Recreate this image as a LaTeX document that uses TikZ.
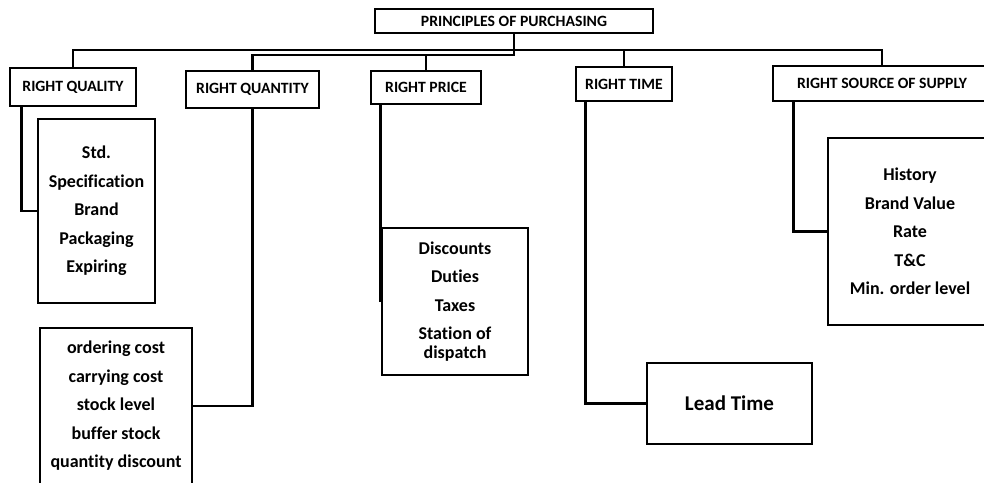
\documentclass[tikz,border=0pt]{standalone}
\usepackage{fontspec}
\setmainfont{Carlito}[Ligatures=CommonOff]
\begin{document}
\begin{tikzpicture}[x=1pt,y=-1pt,line width=2.6pt,
  hdr/.style={draw,inner sep=0pt,align=center,font=\fontsize{15.7}{18}\selectfont\bfseries},
  sub/.style={draw,inner sep=0pt,align=center,font=\fontsize{18}{28.5}\selectfont\bfseries},
  lead/.style={draw,inner sep=0pt,align=center,font=\fontsize{21}{24}\selectfont\bfseries},
  conn/.style={line width=2.6pt}]
\clip (0,0) rectangle (984,482);
\fill[white] (0,0) rectangle (984,482);
% headers
\node[hdr,minimum width=278pt,minimum height=24pt] (title) at (514,21) {PRINCIPLES OF PURCHASING};
\node[hdr,minimum width=126pt,minimum height=38pt] (quality) at (73,87) {RIGHT QUALITY};
\node[hdr,minimum width=133pt,minimum height=37pt] (quantity) at (252.5,89.5) {RIGHT QUANTITY};
\node[hdr,minimum width=110pt,minimum height=33pt] (price) at (426,87.5) {RIGHT PRICE};
\node[hdr,minimum width=96pt,minimum height=34pt] (time) at (624,84) {RIGHT TIME};
\node[hdr,minimum width=218pt,minimum height=35pt] (source) at (882,83.5) {RIGHT SOURCE OF SUPPLY};
% sub boxes
\node[sub,minimum width=117pt,minimum height=184pt] (qbox) at (96.5,211) {Std.\\Specification\\Brand\\Packaging\\Expiring};
\node[sub,minimum width=152pt,minimum height=156pt] (qtybox) at (116,406) {ordering cost\\carrying cost\\stock level\\buffer stock\\quantity discount};
\node[sub,minimum width=146pt,minimum height=147pt] (pricebox) at (455,301.5) {Discounts\\Duties\\Taxes\\Station of\\[-9.5pt]dispatch};
\node[lead,minimum width=165pt,minimum height=81pt] (leadbox) at (729.5,403.5) {Lead Time};
\node[sub,minimum width=164pt,minimum height=187pt] (srcbox) at (910,231.5) {History\\Brand Value\\Rate\\T\&C\\Min. order level};
% buses
\coordinate (busA) at (0,50);
\coordinate (busB) at (0,55);
\draw[conn] (quality.north) -- (quality.north |- busA) -- (source.north |- busA) -- (source.north);
\draw[conn] (time.north |- busA) -- (time.north);
\draw[conn] (title.south) -- (title.south |- busB) -- (quantity.north |- busB) -- (quantity.north);
\draw[conn] (price.north |- busB) -- (price.north);
% branches
\draw[conn] ([xshift=13pt]quality.south west) |- (qbox.west);
\draw[conn] (quantity.south) |- (qtybox.east);
\draw[conn] (pricebox.west |- price.south) -- (pricebox.west);
\draw[conn] ([xshift=11pt]time.south west) |- (leadbox.west);
\draw[conn] ([xshift=22pt]source.south west) |- (srcbox.west);
\end{tikzpicture}
\end{document}
